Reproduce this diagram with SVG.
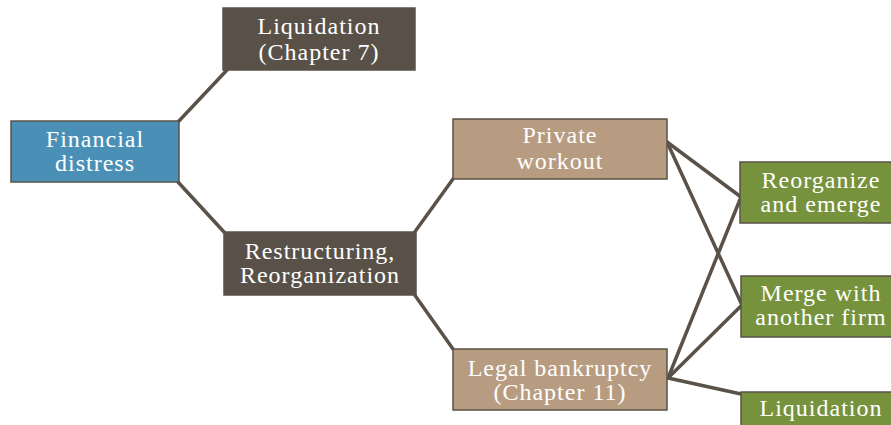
<svg xmlns="http://www.w3.org/2000/svg" width="891" height="425" viewBox="0 0 891 425">
<style>
.box{stroke:#5a5248;stroke-width:1.5}
.dark{fill:#595148}
.blue{fill:#4a90b6}
.tan{fill:#b89c81}
.green{fill:#76923c}
text{font-family:"Liberation Serif","Times New Roman",serif;font-size:24px;fill:#ffffff;text-anchor:middle;letter-spacing:1px}
.conn line{stroke:#5a5248;stroke-width:3.5;stroke-linecap:round}
</style>
<rect width="891" height="425" fill="#ffffff"/>
<g class="conn" id="connectors">
<line x1="178" y1="122" x2="227" y2="70"/>
<line x1="178" y1="182" x2="224" y2="232"/>
<line x1="414" y1="233" x2="453" y2="179"/>
<line x1="414" y1="294" x2="453" y2="349"/>
<line x1="667" y1="142" x2="741" y2="197"/>
<line x1="667" y1="142" x2="742" y2="305"/>
<line x1="668" y1="378" x2="741" y2="197"/>
<line x1="668" y1="378" x2="742" y2="305"/>
<line x1="668" y1="378" x2="741" y2="394"/>
</g>
<g id="financial-distress">
<rect class="box blue" x="11" y="121" width="168" height="61"/>
<text x="95" y="147">Financial</text>
<text x="95" y="171">distress</text>
</g>
<g id="liquidation-ch7">
<rect class="box dark" x="223" y="8" width="192" height="62"/>
<text x="319" y="34">Liquidation</text>
<text x="319" y="60">(Chapter 7)</text>
</g>
<g id="restructuring">
<rect class="box dark" x="224" y="232" width="192" height="63"/>
<text x="320" y="259">Restructuring,</text>
<text x="320" y="283">Reorganization</text>
</g>
<g id="private-workout">
<rect class="box tan" x="453" y="119" width="214" height="60"/>
<text x="560" y="143">Private</text>
<text x="560" y="169">workout</text>
</g>
<g id="legal-bankruptcy">
<rect class="box tan" x="453" y="349" width="214" height="61"/>
<text x="560" y="376">Legal bankruptcy</text>
<text x="560" y="400">(Chapter 11)</text>
</g>
<g id="reorganize">
<rect class="box green" x="740" y="162" width="170" height="61"/>
<text x="821" y="188">Reorganize</text>
<text x="821" y="212">and emerge</text>
</g>
<g id="merge">
<rect class="box green" x="741" y="276" width="170" height="61"/>
<text x="821" y="301">Merge with</text>
<text x="821" y="325">another firm</text>
</g>
<g id="liquidation">
<rect class="box green" x="741" y="392" width="170" height="40"/>
<text x="821" y="416">Liquidation</text>
</g>
</svg>
